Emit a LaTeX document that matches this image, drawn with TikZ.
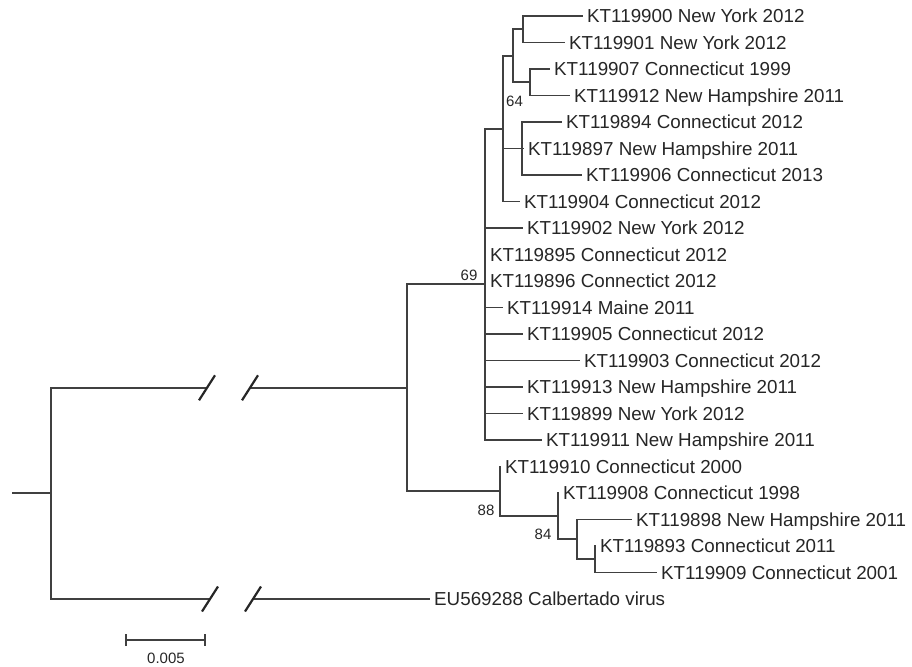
\documentclass[tikz,border=0pt]{standalone}
\usepackage{fontspec}
\setmainfont{Liberation Sans}
\usepackage{tikz}
\usetikzlibrary{arrows.meta}
\tikzset{
  taxon/.style={anchor=west, inner xsep=4pt, inner ysep=0pt, text height=13.5pt, text depth=0pt, font=\fontsize{18.8}{20}\selectfont, text=black!85},
  boot/.style={inner sep=0pt, font=\fontsize{15}{16}\selectfont, text=black!85},
  branch/.style={line width=1.9pt, draw=black!75},
  brk/.style={line width=2.2pt, draw=black!85}
}
\begin{document}
\begin{tikzpicture}[x=1pt, y=-1pt]
        \useasboundingbox (0,0) rectangle (912,666);
        \node (kt900) [taxon] at (583,16) {KT119900 New York 2012};
        \node (kt901) [taxon] at (565,42.5) {KT119901 New York 2012};
        \node (kt907) [taxon] at (550,69) {KT119907 Connecticut 1999};
        \node (kt912) [taxon] at (570,95.5) {KT119912 New Hampshire 2011};
        \node (kt894) [taxon] at (562,122) {KT119894 Connecticut 2012};
        \node (kt897) [taxon] at (524,148.5) {KT119897 New Hampshire 2011};
        \node (kt906) [taxon] at (582,175) {KT119906 Connecticut 2013};
        \node (kt904) [taxon] at (520,201.5) {KT119904 Connecticut 2012};
        \node (kt902) [taxon] at (523,228) {KT119902 New York 2012};
        \node (kt895) [taxon] at (486,254.5) {KT119895 Connecticut 2012};
        \node (kt896) [taxon] at (486,281) {KT119896 Connectict 2012};
        \node (kt914) [taxon] at (503,307.5) {KT119914 Maine 2011};
        \node (kt905) [taxon] at (523,334) {KT119905 Connecticut 2012};
        \node (kt903) [taxon] at (580,360.5) {KT119903 Connecticut 2012};
        \node (kt913) [taxon] at (523,387) {KT119913 New Hampshire 2011};
        \node (kt899) [taxon] at (523,413.5) {KT119899 New York 2012};
        \node (kt911) [taxon] at (542,440) {KT119911 New Hampshire 2011};
        \node (kt910) [taxon] at (501,466.5) {KT119910 Connecticut 2000};
        \node (kt908) [taxon] at (559,493) {KT119908 Connecticut 1998};
        \node (kt898) [taxon] at (632,519.5) {KT119898 New Hampshire 2011};
        \node (kt893) [taxon] at (596,546) {KT119893 Connecticut 2011};
        \node (kt909) [taxon] at (657,572.5) {KT119909 Connecticut 2001};
        \node (eu288) [taxon] at (430,599) {EU569288 Calbertado virus};

        \coordinate (nA) at (523,29.25);
        \coordinate (nB) at (530,82.25);
        \coordinate (nF) at (513,55.75);
        \coordinate (nC) at (522,148.5);
        \coordinate (n64) at (503,128.6);
        \coordinate (n69) at (485,284.3);
        \coordinate (nE) at (595,559.25);
        \coordinate (nD) at (577,539.4);
        \coordinate (n84) at (558,516.2);
        \coordinate (n88) at (500,491.35);
        \coordinate (nG) at (407,387.8);
        \coordinate (root) at (51,493.4);
        \coordinate (rootin) at (12,493.4);
        \coordinate (brk1) at (207,387.8);
        \coordinate (brk2) at (250,387.8);
        \coordinate (brk3) at (210,599);
        \coordinate (brk4) at (253,599);

        \draw [branch] (rootin) -- (root);
        \draw [branch] (root) |- (brk1);
        \draw [branch] (brk2) -- (nG);
        \draw [branch] (root) |- (brk3);
        \draw [branch] (brk4) -- (eu288.west);
        \draw [brk] (brk1) +(-8,12.5) -- +(8,-12.5);
        \draw [brk] (brk2) +(-8,12.5) -- +(8,-12.5);
        \draw [brk] (brk3) +(-8,12.5) -- +(8,-12.5);
        \draw [brk] (brk4) +(-8,12.5) -- +(8,-12.5);

        \draw [branch] (nG) |- (n69);
        \draw [branch] (nG) |- (n88);
        \draw [branch] (n69) |- (n64);
        \draw [branch] (n69) |- (kt902.west);
        \draw [branch] (n69) |- (kt895.west);
        \draw [branch] (n69) |- (kt896.west);
        \draw [branch] (n69) |- (kt914.west);
        \draw [branch] (n69) |- (kt905.west);
        \draw [branch] (n69) |- (kt903.west);
        \draw [branch] (n69) |- (kt913.west);
        \draw [branch] (n69) |- (kt899.west);
        \draw [branch] (n69) |- (kt911.west);
        \draw [branch] (n64) |- (nF);
        \draw [branch] (n64) |- (nC);
        \draw [branch] (n64) |- (kt904.west);
        \draw [branch] (nF) |- (nA);
        \draw [branch] (nF) |- (nB);
        \draw [branch] (nA) |- (kt900.west);
        \draw [branch] (nA) |- (kt901.west);
        \draw [branch] (nB) |- (kt907.west);
        \draw [branch] (nB) |- (kt912.west);
        \draw [branch] (nC) |- (kt894.west);
        \draw [branch] (nC) |- (kt897.west);
        \draw [branch] (nC) |- (kt906.west);
        \draw [branch] (n88) |- (kt910.west);
        \draw [branch] (n88) |- (n84);
        \draw [branch] (n84) |- (kt908.west);
        \draw [branch] (n84) |- (nD);
        \draw [branch] (nD) |- (kt898.west);
        \draw [branch] (nD) |- (nE);
        \draw [branch] (nE) |- (kt893.west);
        \draw [branch] (nE) |- (kt909.west);

        \node (bs69) [boot] at (469,275) {69};
        \node (bs64) [boot] at (514.5,101) {64};
        \node (bs88) [boot] at (486,510) {88};
        \node (bs84) [boot] at (543,534) {84};

        \coordinate (sb1) at (125,640);
        \coordinate (sb2) at (206,640);
        \draw [branch, {Bar[width=12pt]}-{Bar[width=12pt]}] (sb1) -- (sb2);
        \node (sbtext) [boot] at (166,658) {0.005};
\end{tikzpicture}
\end{document}
